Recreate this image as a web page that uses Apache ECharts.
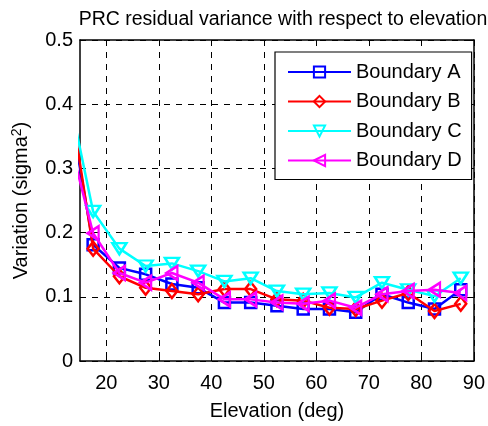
<!DOCTYPE html>
<html>
<head>
<meta charset="utf-8">
<script src="https://cdn.jsdelivr.net/npm/echarts@6/dist/echarts.min.js"></script>
<style>html,body{margin:0;padding:0;background:#fff;}#c{width:488px;height:426px;}</style>
</head>
<body>
<div id="c"></div>
<script>
const elevation = [12.5, 17.5, 22.5, 27.5, 32.5, 37.5, 42.5, 47.5, 52.5, 57.5, 62.5, 67.5, 72.5, 77.5, 82.5, 87.5];
const boundaryA = [0.42, 0.181, 0.145, 0.135, 0.120, 0.114, 0.091, 0.091, 0.086, 0.081, 0.081, 0.076, 0.104, 0.091, 0.081, 0.111];
const boundaryB = [0.44, 0.175, 0.132, 0.114, 0.109, 0.104, 0.112, 0.112, 0.096, 0.094, 0.083, 0.081, 0.094, 0.106, 0.078, 0.089];
const boundaryC = [0.43, 0.233, 0.175, 0.148, 0.152, 0.140, 0.124, 0.129, 0.109, 0.104, 0.106, 0.099, 0.122, 0.111, 0.101, 0.129];
const boundaryD = [0.36, 0.199, 0.137, 0.122, 0.137, 0.122, 0.096, 0.096, 0.091, 0.089, 0.094, 0.083, 0.104, 0.109, 0.111, 0.106];
const xTicks = [20, 30, 40, 50, 60, 70, 80, 90];
const yTicks = [0, 0.1, 0.2, 0.3, 0.4, 0.5];
const seriesNames = ['Boundary A', 'Boundary B', 'Boundary C', 'Boundary D'];
const colors = ['#0000ff', '#ff0000', '#00ffff', '#ff00ff'];

const FONT = 'Liberation Sans, Arial, sans-serif';
const pair = arr => elevation.map((x, i) => [x, arr[i]]);
const symbols = [
  {symbol: 'rect', size: 11, rotate: 0},
  {symbol: 'diamond', size: [11, 14], rotate: 0},
  {symbol: 'triangle', size: [14, 11], rotate: 180},
  {symbol: 'triangle', size: [14, 11], rotate: 90}
];
const dataSets = [boundaryA, boundaryB, boundaryC, boundaryD];

const series = dataSets.map((d, i) => ({
  name: seriesNames[i],
  type: 'line',
  data: pair(d),
  clip: true,
  symbol: symbols[i].symbol,
  symbolSize: symbols[i].size,
  symbolRotate: symbols[i].rotate,
  showAllSymbol: true,
  lineStyle: {color: colors[i], width: 2.5},
  itemStyle: {color: 'rgba(255,255,255,0)', borderColor: colors[i], borderWidth: 2.5},
  emphasis: {disabled: true},
  animation: false,
  z: 2 + i
}));

const axisLine = {show: true, onZero: false, lineStyle: {color: '#000', width: 1.5}};
const splitLine = {show: true, lineStyle: {color: '#000', width: 1, type: [6, 6]}};

const chart = echarts.init(document.getElementById('c'), null, {renderer: 'canvas'});
chart.setOption({
  backgroundColor: '#fff',
  animation: false,
  title: {
    text: 'PRC residual variance with respect to elevation',
    left: 278, top: 5, textAlign: 'center',
    textStyle: {fontFamily: FONT, fontSize: 19.5, fontWeight: 'normal', color: '#000'}
  },
  grid: {left: 80, right: 10, top: 40, bottom: 60, containLabel: false},
  legend: {
    left: 275, top: 52, orient: 'vertical',
    backgroundColor: '#fff', borderColor: '#000', borderWidth: 1.2,
    padding: [10, 10, 9, 12],
    itemWidth: 63, itemHeight: 14, itemGap: 9.5,
    textStyle: {fontFamily: FONT, fontSize: 20, color: '#000'},
    data: seriesNames
  },
  xAxis: [{
    type: 'value', min: 15, max: 90, position: 'bottom',
    axisLine: axisLine,
    axisTick: {show: true, inside: true, length: 6, customValues: xTicks, lineStyle: {color: '#000', width: 1}},
    axisLabel: {customValues: xTicks, margin: 12, fontFamily: FONT, fontSize: 20, color: '#000'},
    splitLine: Object.assign({customValues: xTicks}, splitLine),
    name: 'Elevation (deg)', nameLocation: 'middle', nameGap: 40,
    nameTextStyle: {fontFamily: FONT, fontSize: 20, color: '#000'}
  }, {
    type: 'value', min: 15, max: 90, position: 'top',
    axisLine: axisLine,
    axisTick: {show: true, inside: true, length: 6, customValues: xTicks, lineStyle: {color: '#000', width: 1}},
    axisLabel: {show: false},
    splitLine: {show: false}
  }],
  yAxis: [{
    type: 'value', min: 0, max: 0.5, interval: 0.1, position: 'left',
    axisLine: axisLine,
    axisTick: {show: true, inside: true, length: 6, lineStyle: {color: '#000', width: 1}},
    axisLabel: {margin: 7, fontFamily: FONT, fontSize: 20, color: '#000',
      formatter: v => String(Math.round(v * 10) / 10)},
    splitLine: splitLine,
    name: '{a|Variation (sigma}{s|2}{a|)}', nameLocation: 'middle', nameGap: 48,
    nameTextStyle: {
      rich: {
        a: {fontFamily: FONT, fontSize: 20, color: '#000'},
        s: {fontFamily: FONT, fontSize: 14, color: '#000', verticalAlign: 'top', padding: [0, 0, 8, 0]}
      }
    }
  }, {
    type: 'value', min: 0, max: 0.5, interval: 0.1, position: 'right',
    axisLine: axisLine,
    axisTick: {show: true, inside: true, length: 6, lineStyle: {color: '#000', width: 1}},
    axisLabel: {show: false},
    splitLine: {show: false}
  }],
  series: series
});
</script>
</body>
</html>
